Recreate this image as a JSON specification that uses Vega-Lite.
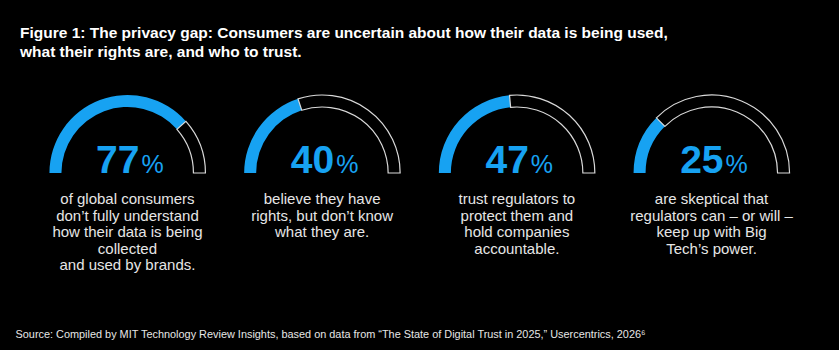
{
  "$schema": "https://vega.github.io/schema/vega-lite/v6.json",
  "width": 839,
  "height": 258,
  "autosize": {"type": "none"},
  "padding": {"top": 62, "bottom": 30, "left": 0, "right": 0},
  "background": "#000000",
  "title": {
    "text": ["Figure 1: The privacy gap: Consumers are uncertain about how their data is being used,", "what their rights are, and who to trust."],
    "anchor": "start",
    "frame": "group",
    "dx": 20,
    "offset": 2,
    "font": "Liberation Sans",
    "fontSize": 15.5,
    "fontWeight": "bold",
    "lineHeight": 19,
    "color": "#ffffff"
  },
  "config": {"view": {"stroke": null}},
  "data": {
    "values": [
      {"idx": 1, "pct": 77, "desc": ["of global consumers", "don’t fully understand", "how their data is being", "collected", "and used by brands."]},
      {"idx": 2, "pct": 40, "desc": ["believe they have", "rights, but don’t know", "what they are."]},
      {"idx": 3, "pct": 47, "desc": ["trust regulators to", "protect them and", "hold companies", "accountable."]},
      {"idx": 4, "pct": 25, "desc": ["are skeptical that", "regulators can – or will –", "keep up with Big", "Tech’s power."]}
    ]
  },
  "encoding": {
    "x": {
      "field": "idx",
      "type": "ordinal",
      "scale": {"type": "point", "padding": 0.6545},
      "axis": {
        "title": "Source: Compiled by MIT Technology Review Insights, based on data from “The State of Digital Trust in 2025,” Usercentrics, 2026⁶",
        "titleFont": "Liberation Sans",
        "titleFontSize": 10.9,
        "titleFontWeight": "normal",
        "titleColor": "#e6e6e6",
        "titleAnchor": "start",
        "titleAlign": "left",
        "titleBaseline": "alphabetic",
        "titleX": 15,
        "titleY": 17,
        "labels": false,
        "ticks": false,
        "domain": false,
        "grid": false
      }
    }
  },
  "layer": [
    {
      "mark": {"type": "arc", "radius": 78, "radius2": 66, "fill": "#17a2f2", "stroke": null},
      "encoding": {
        "y": {"datum": 111, "type": "quantitative", "scale": {"domain": [0, 258], "reverse": true, "nice": false}, "axis": null},
        "theta": {"field": "pct", "type": "quantitative", "stack": null, "scale": {"domain": [0, 100], "range": [-1.5708, 1.5708]}},
        "theta2": {"datum": 0}
      }
    },
    {
      "mark": {"type": "arc", "radius": 78, "radius2": 66, "fill": null, "fillOpacity": 0, "stroke": "#d9d9d9", "strokeWidth": 1.2},
      "encoding": {
        "y": {"datum": 111, "type": "quantitative"},
        "theta": {"field": "pct", "type": "quantitative", "stack": null},
        "theta2": {"datum": 100}
      }
    },
    {
      "mark": {"type": "text", "align": "right", "baseline": "alphabetic", "dx": 12, "font": "Liberation Sans", "fontSize": 39, "fontWeight": "bold", "color": "#17a2f2"},
      "encoding": {
        "y": {"datum": 111, "type": "quantitative"},
        "text": {"field": "pct", "type": "quantitative"}
      }
    },
    {
      "mark": {"type": "text", "align": "left", "baseline": "alphabetic", "dx": 14, "font": "Liberation Sans", "fontSize": 25, "fontWeight": "normal", "color": "#17a2f2", "text": "%"},
      "encoding": {
        "y": {"datum": 111, "type": "quantitative"}
      }
    },
    {
      "mark": {"type": "text", "align": "center", "baseline": "alphabetic", "font": "Liberation Sans", "fontSize": 15, "lineHeight": 16.5, "color": "#e6e6e6"},
      "encoding": {
        "y": {"datum": 142, "type": "quantitative"},
        "text": {"field": "desc"}
      }
    }
  ]
}
